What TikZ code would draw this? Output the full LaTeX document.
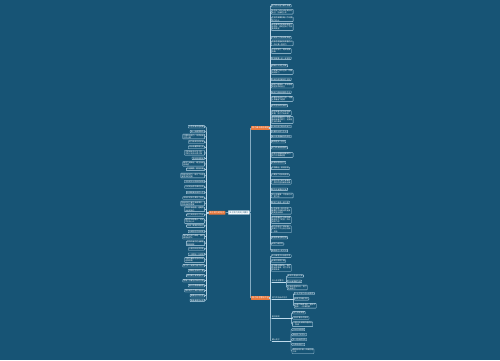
\documentclass[tikz,border=0pt]{standalone}
\usepackage{fontspec}
\newfontfamily\cjk{Noto Sans CJK SC}
\definecolor{bg}{RGB}{23,84,117}
\definecolor{org}{RGB}{232,120,60}
\definecolor{ln}{RGB}{190,218,236}
\begin{document}
\begin{tikzpicture}[x=1pt,y=-1pt,
 leaf/.style={draw=ln,line width=0.35pt,fill=bg,rounded corners=0.5pt,inner xsep=0.8pt,inner ysep=0.45pt,font=\cjk\fontsize{1.85}{2.1}\selectfont,text=white,align=left},
 sbtext/.style={inner xsep=0.3pt,inner ysep=0.5pt,font=\cjk\fontsize{1.9}{2.3}\selectfont,text=white},
 conn/.style={draw=ln,line width=0.45pt,rounded corners=0.8pt},
 mainnode/.style={fill=org,text=white,inner xsep=1pt,inner ysep=0.9pt,font=\cjk\fontsize{2.1}{2.5}\selectfont,rounded corners=0.4pt},
 rootnode/.style={fill=white,draw=ln,line width=0.3pt,text=bg,inner xsep=1pt,inner ysep=1pt,font=\cjk\fontsize{2.1}{2.5}\selectfont,rounded corners=0.4pt}]
\fill[bg] (0,0) rectangle (500,360);
\useasboundingbox (0,0) rectangle (500,360);

% root and main branches
\node[rootnode,anchor=east] (c) at (249.5,212.5) {关于努力的句子摘抄};
\node[mainnode,anchor=east] (lo) at (225.5,212.8) {关于努力的句子};
\node[mainnode,anchor=west] (o1) at (251,128) {努力奋斗励志短句};
\node[mainnode,anchor=west] (o2) at (251,298) {努力名言警句大全};
\draw[conn] (c.west) -- (lo.east);
\draw[conn] (c.east) -- ++(0.8,0) |- (o1.west);
\draw[conn] (c.east) -- ++(0.8,0) |- (o2.west);

\coordinate (lb) at (206.3,0);
\coordinate (rb) at (270.3,0);

% left children
\foreach \y/\t [count=\i] in {
126.7/{人生没有白走的路},
131.5/{每一步都算数的},
136.5/{只要你肯努力，世界就会\\为你让路},
142/{努力是成功的阶梯},
147.2/{汗水浇灌梦想之花},
152.8/{不积跬步无以至千里，\\不积小流无以成江海},
158.3/{坚持就是胜利},
163.8/{越努力越幸运，越坚持越\\有希望},
169.3/{天道酬勤，勤能补拙},
175.5/{你现在的努力，是为了以后\\有更多的选择},
181.5/{今天的汗水明天的收获},
187/{行动是治愈恐惧的良药},
192.5/{自律给我自由的人生},
198/{没有伞的孩子要努力奔跑},
203.5/{所有的努力都不会被辜负，\\时间会给你答案},
209.3/{梦想不会逃跑，逃跑的\\永远是自己},
215/{努力到无能为力为止},
221/{星光不问赶路人，时光\\不负有心人},
226/{加油，做更好的自己},
231.5/{与其抱怨不如改变},
236.7/{我们都在努力奔跑，我们\\都是追梦人},
243.3/{愿你所有的付出都能\\得到回报},
249/{心若向阳无畏悲伤},
254.3/{一分耕耘一分收获},
260/{不要在最能吃苦的年纪\\选择安逸},
265.7/{努力不一定成功但不努力},
270.7/{请相信坚持的力量},
275.7/{成功属于有准备的人},
280.7/{把每一天都当作新的开始},
285.7/{奋斗的青春最美丽},
290.7/{低头是为了更好地抬头},
295.7/{路虽远行则将至},
300.3/{事虽难做则必成}}
{
 \node[leaf,anchor=east] (L\i) at (204.8,\y) {\t};
 \draw[conn] (lo.west) -- (lo.west -| lb) |- (L\i.east);
}

% right children of first branch
\foreach \y/\t [count=\i] in {
5.7/{努力的人运气都不会差},
11.7/{你的努力终将成就更好的\\自己，加油吧少年},
19.3/{生活不会辜负每一个认真\\努力的人},
27/{有些事情不是看到希望才\\去坚持，而是坚持了才会\\看到希望},
37.7/{只有努力才能改变命运},
43.3/{机会总是留给有准备的人\\，所以要一直努力},
51/{今天不努力，明天就会\\后悔},
58.3/{梦想需要一步一步实现},
65.7/{哪有什么天生如此},
72/{只是我们天天坚持，你要\\悄悄努力},
79.3/{所有的成功都源于坚持},
85.7/{越努力越幸运，你会感谢\\现在拼命的自己},
92.3/{用努力换取想要的生活},
99/{趁着年轻去努力吧，不要\\让青春留下遗憾},
105.7/{你的坚持终将美好},
113/{别在该奋斗的年纪选择\\安逸，努力才有未来},
120/{你必须非常努力，才能\\看起来毫不费力，这就是\\生活的真相},
126.5/{今天的努力明天的实力},
131.5/{向着阳光努力生长},
136.5/{奋斗是青春最亮的底色},
141.7/{每天进步一点点},
147.7/{努力终会有回报的},
155/{没有人能随随便便成功，\\努力才是硬道理},
162.7/{拼搏到感动自己},
168.3/{不怕路远，就怕志短},
175/{只要努力总会有收获},
181.7/{愿你的努力都不被辜负\\，愿你的坚持都有结果},
189.3/{成功没有捷径可走},
195.5/{世上无难事，只怕有心人\\，努力吧},
202.3/{把努力变成一种习惯},
210.7/{人生就像一场马拉松，\\重要的不是瞬间的速度\\而是坚持到底},
220/{你所羡慕的生活背后都\\是你吃不了的苦，所以\\请努力吧},
229.3/{努力不是为了感动谁，\\而是为了不让自己后悔\\，加油},
237.7/{再苦再累也要坚持},
244/{越努力越优秀},
250.5/{相信自己一定可以}}
{
 \node[leaf,anchor=west] (R\i) at (271,\y) {\t};
 \draw[conn] (o1.east) -- (o1.east -| rb) |- (R\i.west);
}

% right children of second branch
\foreach \y/\t [count=\i] in {
256/{天行健君子以自强不息},
261/{业精于勤荒于嬉},
267.8/{宝剑锋从磨砺出，梅花\\香自苦寒来，努力才能\\成就未来}}
{
 \node[leaf,anchor=west] (Q\i) at (271,\y) {\t};
 \draw[conn] (o2.east) -- (o2.east -| rb) |- (Q\i.west);
}

% sub-branches
\node[sbtext,anchor=south west] (S1) at (271.6,282.3) {名人名言警句};
\node[sbtext,anchor=south west] (S2) at (271.6,299.3) {努力的古诗词句子};
\node[sbtext,anchor=south west] (S3) at (271.6,318.7) {励志短句};
\node[sbtext,anchor=south west] (S4) at (271.6,341) {暖心句子};
\coordinate (b1) at (286.3,282.3);
\coordinate (b2) at (293.4,299.3);
\coordinate (b3) at (291.6,318.7);
\coordinate (b4) at (291,341);
\foreach \k in {1,2,3,4}{
 \draw[conn] (o2.east) -- (o2.east -| rb) |- (S\k.south west);
 \draw[conn] (S\k.south west) -- (b\k);
}

\foreach \y/\t [count=\i] in {
276/{锲而不舍金石可镂},
281.3/{书山有路勤为径},
287.5/{学海无涯苦作舟，努力\\就会成功}}
{
 \node[leaf,anchor=west] (A\i) at (287,\y) {\t};
 \draw[conn] (b1) |- (A\i.west);
}
\foreach \y/\t [count=\i] in {
293.5/{少壮不努力老大徒伤悲},
298.8/{黑发不知勤学早},
305.7/{白首方悔读书迟，盛年不\\重来，一日难再晨}}
{
 \node[leaf,anchor=west] (B\i) at (294.1,\y) {\t};
 \draw[conn] (b2) |- (B\i.west);
}
\foreach \y/\t [count=\i] in {
312.7/{努力就有希望},
318/{坚持不懈永不放弃},
324.2/{只要功夫深铁杵磨成针\\，加油}}
{
 \node[leaf,anchor=west] (C\i) at (292.4,\y) {\t};
 \draw[conn] (b3) |- (C\i.west);
}
\foreach \y/\t [count=\i] in {
329.5/{付出总有回报},
334.5/{相信努力的意义},
339.5/{你一定会成功的},
344.5/{为梦想而努力},
351.2/{愿你历尽千帆，归来仍是\\少年}}
{
 \node[leaf,anchor=west] (D\i) at (291.8,\y) {\t};
 \draw[conn] (b4) |- (D\i.west);
}
\end{tikzpicture}
\end{document}
